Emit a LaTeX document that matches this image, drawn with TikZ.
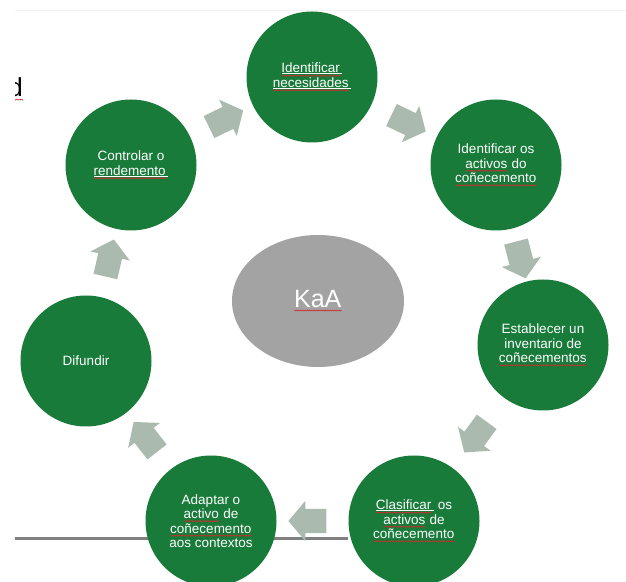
\documentclass[tikz,border=0pt]{standalone}
\usepackage{fontspec}
\setmainfont{Liberation Sans}
\usetikzlibrary{shapes.geometric,shapes.arrows,backgrounds,decorations.pathmorphing}
\definecolor{leafgreen}{RGB}{24,123,58}
\definecolor{hubgray}{RGB}{163,163,163}
\definecolor{flowgray}{RGB}{170,186,174}
\definecolor{spellred}{RGB}{205,45,45}
\newlength\markwd
\tikzset{wavy/.style={spellred,line width=0.5pt,decorate,
  decoration={zigzag,amplitude=0.55pt,segment length=1.8pt}}}
\newcommand\spl[1]{\settowidth\markwd{#1}\rlap{#1}%
  \raisebox{-3.4pt}{\tikz[x=1pt,y=1pt]\draw[wavy] (0,0) -- (\markwd,0);}}
\newcommand\lnk[1]{\settowidth\markwd{#1}\rlap{#1}%
  \raisebox{-3.8pt}{\tikz[x=1pt,y=1pt]{\draw[white,line width=0.6pt] (0,2.2) -- (\markwd+2pt,2.2);
  \draw[wavy] (0,0) -- (\markwd,0);}}}
\begin{document}
\begin{tikzpicture}
[
   x=1pt, y=1pt,
   phase/.style={circle,fill=leafgreen,text=white,minimum size=131pt,inner sep=0pt,
     align=center,font=\fontsize{13.5}{14.5}\selectfont},
   hub/.style={ellipse,fill=hubgray,text=white,minimum width=172pt,minimum height=132pt,
     font=\fontsize{25}{25}\selectfont},
   flow/.style={single arrow,fill=flowgray,minimum height=38pt,inner xsep=0pt,inner ysep=12pt,
     single arrow head extend=8pt,single arrow tip angle=100,
     sloped,allow upside down}
]
\useasboundingbox (0,0) rectangle (626,581);
\clip (0,0) rectangle (626,581);
\draw[black!5,line width=1pt] (15,570) -- (626,570);
\begin{scope}
  \clip (15,470) rectangle (40,510);
  \node[anchor=base east,inner sep=0pt,font=\fontsize{26}{26}\selectfont] (stub) at (23.5,484) {\spl{d}};
\end{scope}
\node[phase] (ident) at (312,504) {\lnk{Identificar}\\\lnk{necesidades}};
\node[phase] (activos) at (496,416) {Identificar os\\\spl{activos} do\\\spl{coñecemento}};
\node[phase] (invent) at (543,236) {Establecer un\\inventario de\\\spl{coñecementos}};
\node[phase] (clasif) at (414,60) {\lnk{Clasificar} os\\\spl{activos} de\\\spl{coñecemento}};
\node[phase] (adapt) at (211,60) {Adaptar o\\\spl{activo} de\\\spl{coñecemento}\\aos contextos};
\node[phase] (difund) at (86,220) {Difundir};
\node[phase] (ctrl) at (131,416) {Controlar o\\\lnk{rendemento}};
\node[hub] (kaa) at (318,280) {\spl{KaA}};
\coordinate (rule) at (15,43);
\begin{scope}[on background layer]
  \draw[gray,line width=3pt] (rule) -- (rule -| clasif.west);
\end{scope}
\foreach \a/\b in {ctrl/ident,ident/activos,activos/invent,invent/clasif,clasif/adapt,adapt/difund,difund/ctrl}
  \path (\a) -- node[flow] {} (\b);
\end{tikzpicture}
\end{document}
